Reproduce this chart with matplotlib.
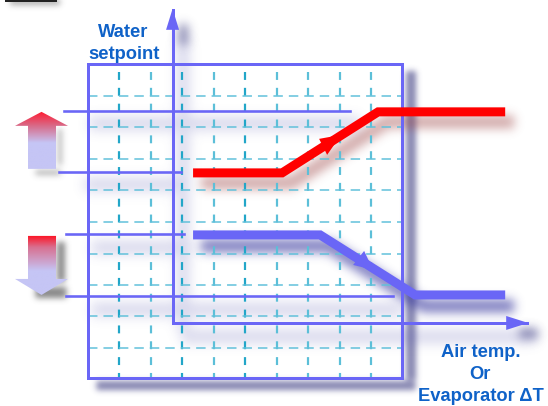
import numpy as np
import matplotlib
matplotlib.use('Agg')
import matplotlib.pyplot as plt
from matplotlib.colors import LinearSegmentedColormap, to_rgb
from matplotlib.patches import Polygon

# everything in pixels
grid_x = [119, 151, 182, 214, 245, 277, 308, 340, 371]
grid_strong = [119, 182, 245]
grid_y = [96, 127, 159, 190, 222, 254, 285, 316, 348]
frame_x = [88, 402, 402, 88, 88]
frame_y = [64, 64, 378, 378, 64]
level_y = [111, 172.5, 234, 296]
level_start = [64, 59, 66, 66]
level_end = [350, 181, 184, 393]
red_x = [193, 282, 378, 505]
red_y = [173, 173, 112, 112]
blue_x = [193, 320, 415, 505]
blue_y = [235, 235, 295, 295]
axis_x = [173, 173, 527]
axis_y = [10, 323, 323]
up_arrow_x = [41.5, 68, 56, 56, 28, 28, 15]
up_arrow_y = [112, 126, 126, 169, 169, 126, 126]
down_arrow_x = [28, 56, 56, 68, 41.5, 15, 28]
down_arrow_y = [236, 236, 279, 279, 295, 279, 279]

BLUE = '#6a66f6'
RED = '#ff0000'
TEXT = '#0f62c8'
W, H = 548, 406
FIGSIZE = ((W + 0.2) / 100, (H + 0.2) / 100)


def px(w):
    return w * 0.72


def blurred(strokes, color, sigma, alpha=1.0):
    # draw the shadow shapes on their own canvas, blur the coverage and lay it under the chart
    f = plt.figure(figsize=FIGSIZE, dpi=100)
    a = f.add_axes([0, 0, 1, 1])
    for xs, ys, width in strokes:
        a.plot(xs, ys, color='black', lw=px(width), solid_capstyle='butt', solid_joinstyle='miter')
    a.set_xlim(0, W)
    a.set_ylim(H, 0)
    a.axis('off')
    f.patch.set_alpha(0)
    f.canvas.draw()
    cover = np.asarray(f.canvas.buffer_rgba())[:, :, 3] / 255.0
    plt.close(f)
    r = int(3 * sigma)
    k = np.exp(-0.5 * (np.arange(-r, r + 1) / sigma) ** 2)
    k /= k.sum()
    for axis in (0, 1):
        cover = np.apply_along_axis(lambda v: np.convolve(v, k, mode='same'), axis, cover)
    rgba = np.zeros(cover.shape + (4,))
    rgba[:, :, :3] = to_rgb(color)
    rgba[:, :, 3] = np.clip(cover * alpha, 0, 1)
    ax.imshow(rgba, extent=(0, W, H, 0), aspect='auto', zorder=1, interpolation='nearest')


def gradient_arrow(xs, ys, colors, stops, top, bottom):
    cmap = LinearSegmentedColormap.from_list('arrow', list(zip(stops, colors)))
    col = np.linspace(0, 1, 128).reshape(-1, 1)
    im = ax.imshow(col, cmap=cmap, vmin=0, vmax=1, aspect='auto', zorder=4,
                   extent=(min(xs), max(xs), bottom, top))
    im.set_clip_path(Polygon(list(zip(xs, ys)), closed=True, transform=ax.transData))


def moved(xs, ys, dx, dy):
    return [v + dx for v in xs], [v + dy for v in ys]


fig = plt.figure(figsize=FIGSIZE, dpi=100)
ax = fig.add_axes([0, 0, 1, 1])

# shadows
blurred([([410, 410], [72, 380], 10), ([96, 414], [385, 385], 9)], '#3a3a80', 3, 0.62)
blurred([(*moved(red_x, red_y, 8, 11), 13)], '#9a4040', 5, 0.45)
blurred([(*moved(blue_x, blue_y, 8, 11), 13)], '#3a3aa0', 5, 0.65)
level_shadow = [([x0 + 25, x1 + 8], [y0 + 13, y0 + 13], 13)
                for y0, x0, x1 in zip(level_y, level_start, level_end)]
level_shadow.append(([183, 183], [40, 330], 12))
level_shadow.append(([181, 535], [336, 336], 13))
blurred(level_shadow, '#5858b0', 6, 0.24)
blurred([([183, 183], [25, 45], 9), ([518, 536], [333, 333], 9)], '#34347a', 5, 0.6)
blurred([([61, 61], [242, 282], 8), ([35, 66], [292, 292], 11)], '#555555', 3, 0.7)
blurred([([60, 60], [130, 166], 4), ([35, 60], [173, 173], 5)], '#777777', 3, 0.55)
blurred([([10, 60], [3, 3], 6)], '#555555', 3, 0.5)

# dashed grid
for x in grid_x:
    ax.plot([x, x], [frame_y[0] + 8, frame_y[2]], color='#22a6c8' if x in grid_strong else '#5cbfd8',
            lw=px(2.2), dashes=(3.6, 3.6), zorder=2)
for y in grid_y:
    ax.plot([frame_x[0], frame_x[1]], [y, y], color='#5fc0da', lw=px(1.5), dashes=(6.3, 4), zorder=2)

# frame, setpoint levels, axes
ax.plot(frame_x, frame_y, color=BLUE, lw=px(3), solid_joinstyle='miter', zorder=3)
for y0, x0, x1 in zip(level_y, level_start, level_end):
    ax.plot([x0, x1], [y0, y0], color=BLUE, lw=px(2.6), zorder=3)
ax.plot(axis_x, axis_y, color=BLUE, lw=px(3), solid_joinstyle='miter', zorder=3)
ax.fill([172.5, 166, 179], [9, 30, 30], color=BLUE, lw=0, zorder=3)
ax.fill([528, 506, 506], [323, 316, 330], color=BLUE, lw=0, zorder=3)

# red and blue curves with the small arrows on the ramps
ax.plot(red_x, red_y, color=RED, lw=px(9), solid_capstyle='butt', solid_joinstyle='miter', zorder=5)
ax.plot(blue_x, blue_y, color=BLUE, lw=px(9), solid_capstyle='butt', solid_joinstyle='miter', zorder=5)
ax.fill([341, 319, 327], [135, 139, 155], color=RED, lw=0, zorder=5)
ax.fill([373, 353, 364], [270, 265, 251], color=BLUE, lw=0, zorder=5)

# big gradient arrows
gradient_arrow(up_arrow_x, up_arrow_y, ['#ff1a30', '#d86a88', '#c5c5f5', '#c5c5f5'],
               [0, 0.25, 0.55, 1], 112, 169)
gradient_arrow(down_arrow_x, down_arrow_y, ['#ff1020', '#d87090', '#c5c5f5', '#c5c5f5'],
               [0, 0.2, 0.6, 1], 236, 295)

# scrap of black at the top edge
ax.plot([7, 55], [0, 0], color='#222222', lw=px(4), zorder=4)

font = dict(family='Liberation Sans', fontweight='bold', fontsize=13.2, color=TEXT,
            ha='center', va='center', zorder=6)
ax.text(123.5, 32, 'Water', **font)
ax.text(124, 54, 'setpoint', **font)
ax.text(481, 352, 'Air temp.', **font)
ax.text(480, 374, 'Or', **font)
ax.text(481, 396, 'Evaporator \u0394T', **font)

ax.set_xlim(0, W)
ax.set_ylim(H, 0)
ax.axis('off')
fig.savefig('out.png', dpi=100, facecolor='white')
